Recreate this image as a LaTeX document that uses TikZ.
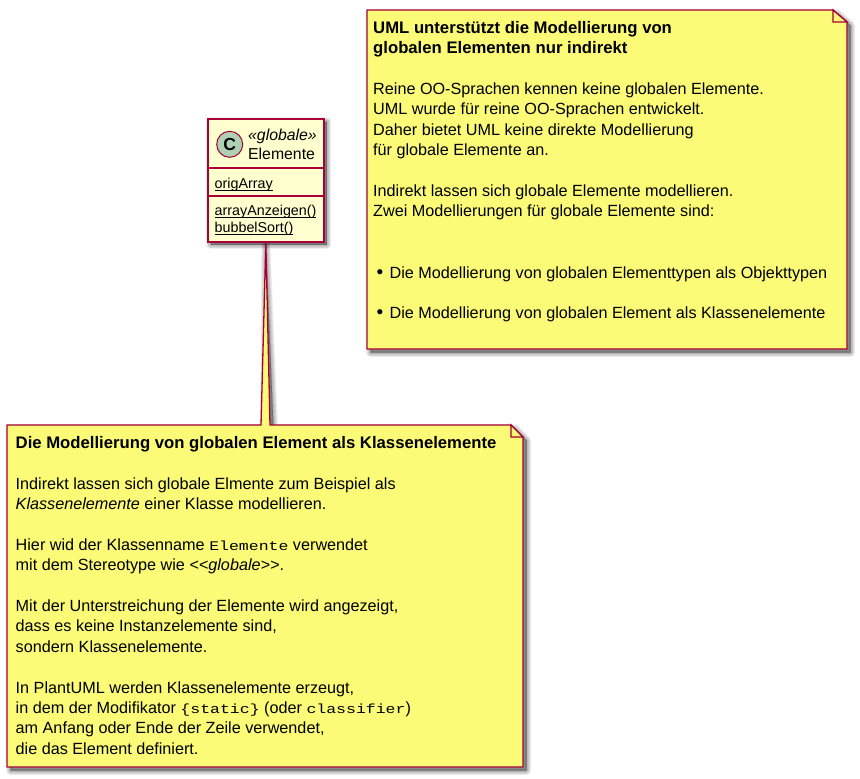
\documentclass[tikz,border=0pt]{standalone}
\usepackage{fontspec}
\setmainfont{Liberation Sans}
\newfontfamily\mnf[FakeStretch=1.25]{Liberation Mono}
\newcommand{\mn}{\mnf\fontsize{13.2}{20.4}\selectfont}
\newcommand{\hd}[1]{{\fontsize{16.7}{20.4}\selectfont\bfseries #1}}
\newcommand{\ul}[1]{\setbox0\hbox{#1}\rlap{\rule[-2.6pt]{\wd0}{0.8pt}}\box0}
\newcommand{\bul}{\hspace*{3.5pt}{\fontsize{19}{20.4}\selectfont •}\hspace*{1.8pt}}
\usetikzlibrary{calc,backgrounds}
\definecolor{bord}{HTML}{A80036}
\definecolor{notefill}{HTML}{FBFB77}
\definecolor{classfill}{HTML}{FEFECE}
\definecolor{spot}{HTML}{ADD1B2}
\newcommand{\softshadow}[1]{%
  \foreach \w in {9,7.5,6,4.5,3,1.5,0}{%
    \path[draw=black,fill=black,opacity=0.06,line width=\w pt,line join=round,shift={(3.5pt,-3.5pt)}] #1;}%
}
\tikzset{
  notetext/.style={anchor=north west,inner sep=0pt,align=left,
    font=\fontsize{16.2}{20.4}\selectfont},
  classtext/.style={inner sep=0pt,font=\fontsize{14.3}{17}\selectfont},
  headtext/.style={inner sep=0pt,font=\fontsize{15.8}{17}\selectfont},
  outline/.style={draw=bord,line width=1.3pt,line join=miter},
  classbox/.style={draw=bord,fill=classfill,line width=1.7pt,inner sep=0pt,
    minimum width=116pt,minimum height=123pt,anchor=north west},
}
\begin{document}
\begin{tikzpicture}[x=1pt,y=1pt]
\useasboundingbox (0,0) rectangle (860,-779);
% class
\node[classbox] (cls) at (207,-118) {};
\draw[bord,line width=1.3pt] (207,-168) coordinate (d1) -- (323,-168);
\draw[bord,line width=1.3pt] (207,-196) coordinate (d2) -- (323,-196);
\node[circle,draw=bord,fill=spot,line width=1pt,minimum size=26pt,inner sep=0pt,
  font=\fontsize{17.5}{17.5}\selectfont\bfseries] (spotc) at (229.7,-144.3) {C};
\node[headtext,anchor=base west] (st) at (248,-140.5) {\textit{«globale»}};
\node[headtext,anchor=base west] (nm) at (248,-159.5) {Elemente};
\node[classtext,anchor=base west] (m1) at (214.5,-188) {\ul{origArray}};
\node[classtext,anchor=base west] (m2) at (214.5,-215) {\ul{arrayAnzeigen()}};
\node[classtext,anchor=base west] (m3) at (214.5,-232) {\ul{bubbelSort()}};
% right note
\node[notetext] (n1) at (373,-21) {%
\hd{UML unterstützt die Modellierung von}\\
\hd{globalen Elementen nur indirekt}\\
~\\
Reine OO-Sprachen kennen keine globalen Elemente.\\
UML wurde für reine OO-Sprachen entwickelt.\\
Daher bietet UML keine direkte Modellierung\\
für globale Elemente an.\\
~\\
Indirekt lassen sich globale Elemente modellieren.\\
Zwei Modellierungen für globale Elemente sind:\\
~\\
~\\
\bul{} Die Modellierung von globalen Elementtypen als Objekttypen\\
~\\
\bul{} Die Modellierung von globalen Element als Klassenelemente};
% lower note
\node[notetext] (n2) at (15.5,-436) {%
\hd{Die Modellierung von globalen Element als Klassenelemente}\\
~\\
Indirekt lassen sich globale Elmente zum Beispiel als\\
\textit{Klassenelemente} einer Klasse modellieren.\\
~\\
Hier wid der Klassenname {\mn Elemente} verwendet\\
mit dem Stereotype wie \textit{<{}<globale>{}>}.\\
~\\
Mit der Unterstreichung der Elemente wird angezeigt,\\
dass es keine Instanzelemente sind,\\
sondern Klassenelemente.\\
~\\
In PlantUML werden Klassenelemente erzeugt,\\
in dem der Modifikator {\mn \{static\}} (oder {\mn classifier})\\
am Anfang oder Ende der Zeile verwendet,\\
die das Element definiert.};
\begin{scope}[on background layer]
  \softshadow{(207,-118) rectangle (323,-241)}
  \softshadow{(367,-10) -- (833,-10) -- (847,-22) -- (847,-349) -- (367,-349) -- cycle}
  \softshadow{(7,-425) -- (261,-425) -- (cls.south) -- (270,-425) -- (511,-425) -- (523,-437) -- (523,-767) -- (7,-767) -- cycle}
  % note 1
  \path[outline,fill=notefill] (367,-10) -- (833,-10) -- (847,-22) -- (847,-349) -- (367,-349) -- cycle;
  \path[outline,fill=notefill] (833,-10) -- (833,-22) -- (847,-22) -- cycle;
  % note 2 with its wedge, which runs up to the class
  \path[outline,fill=notefill] (7,-425) -- (261,-425) -- (cls.south) -- (270,-425) -- (511,-425) -- (523,-437) -- (523,-767) -- (7,-767) -- cycle;
  \path[outline,fill=notefill] (511,-425) -- (511,-437) -- (523,-437) -- cycle;
\end{scope}
\end{tikzpicture}
\end{document}
